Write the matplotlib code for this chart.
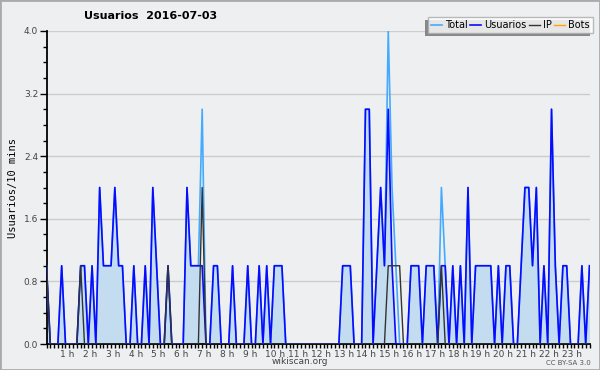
import matplotlib.pyplot as plt
import matplotlib.transforms as mtransforms
from matplotlib.patches import Rectangle
from matplotlib.ticker import MultipleLocator

# -----------------------------
# Données (une valeur toutes les 10 minutes, 144 points)
# -----------------------------
usuarios = [
    1, 0, 0, 0, 1, 0, 0, 0, 0, 1, 1, 0,
    1, 0, 2, 1, 1, 1, 2, 1, 1, 0, 0, 1,
    0, 0, 1, 0, 2, 1, 0, 0, 1, 0, 0, 0,
    0, 2, 1, 1, 1, 1, 0, 0, 1, 1, 0, 0,
    0, 1, 0, 0, 0, 1, 0, 0, 1, 0, 1, 0,
    1, 1, 1, 0, 0, 0, 0, 0, 0, 0, 0, 0,
    0, 0, 0, 0, 0, 0, 1, 1, 1, 0, 0, 0,
    3, 3, 0, 1, 2, 1, 3, 1, 0, 0, 0, 0,
    1, 1, 1, 0, 1, 1, 1, 0, 1, 1, 0, 1,
    0, 1, 0, 2, 0, 1, 1, 1, 1, 1, 0, 1,
    0, 1, 1, 0, 0, 1, 2, 2, 1, 2, 0, 1,
    0, 3, 1, 0, 1, 1, 0, 0, 0, 1, 0, 1,
]
total = [
    1, 0, 0, 0, 1, 0, 0, 0, 0, 1, 1, 0,
    1, 0, 2, 1, 1, 1, 2, 1, 1, 0, 0, 1,
    0, 0, 1, 0, 2, 1, 0, 0, 1, 0, 0, 0,
    0, 2, 1, 1, 1, 3, 0, 0, 1, 1, 0, 0,
    0, 1, 0, 0, 0, 1, 0, 0, 1, 0, 1, 0,
    1, 1, 1, 0, 0, 0, 0, 0, 0, 0, 0, 0,
    0, 0, 0, 0, 0, 0, 1, 1, 1, 0, 0, 0,
    3, 3, 0, 1, 2, 1, 4, 2, 1, 0, 0, 0,
    1, 1, 1, 0, 1, 1, 1, 0, 2, 1, 0, 1,
    0, 1, 0, 2, 0, 1, 1, 1, 1, 1, 0, 1,
    0, 1, 1, 0, 0, 1, 2, 2, 1, 2, 0, 1,
    0, 3, 1, 0, 1, 1, 0, 0, 0, 1, 0, 1,
]
ip = [
    1, 0, 0, 0, 0, 0, 0, 0, 0, 1, 0, 0,
    0, 0, 0, 0, 0, 0, 0, 0, 0, 0, 0, 0,
    0, 0, 0, 0, 0, 0, 0, 0, 1, 0, 0, 0,
    0, 0, 0, 0, 0, 2, 0, 0, 0, 0, 0, 0,
    0, 0, 0, 0, 0, 0, 0, 0, 0, 0, 0, 0,
    0, 0, 0, 0, 0, 0, 0, 0, 0, 0, 0, 0,
    0, 0, 0, 0, 0, 0, 0, 0, 0, 0, 0, 0,
    0, 0, 0, 0, 0, 0, 1, 1, 1, 1, 0, 0,
    0, 0, 0, 0, 0, 0, 0, 0, 1, 0, 0, 0,
    0, 0, 0, 0, 0, 0, 0, 0, 0, 0, 0, 0,
    0, 0, 0, 0, 0, 0, 0, 0, 0, 0, 0, 0,
    0, 0, 0, 0, 0, 0, 0, 0, 0, 0, 0, 0,
]
bots = [0] * 144

heures = [f"{h} h" for h in range(1, 24)]
pos_heures = [6 * h for h in range(1, 24)]

fond = "#eeeff0"

# -----------------------------
# Figure
# -----------------------------
fig = plt.figure(figsize=(6, 3.7), dpi=100, facecolor=fond)
ax = fig.add_axes([46.5 / 600, 1 - 344 / 370, (589.5 - 46.5) / 600, (344 - 31) / 370])
ax.set_facecolor(fond)

x = list(range(len(usuarios)))
ax.fill_between(x, usuarios, 0, color="#c4dcf0", linewidth=0, zorder=1)
ax.plot(x, total, color="#44aaff", lw=1.2, label="Total", zorder=3)
ax.plot(x, usuarios, color="#0a0aff", lw=1.2, label="Usuarios", zorder=4)
ax.plot(x, ip, color="#333333", lw=1.0, label="IP", zorder=5)
ax.plot(x, bots, color="#ffa500", lw=1.0, label="Bots", zorder=2, alpha=0)

ax.set_xlim(0, 143)
ax.set_ylim(0, 4.0)

# axe y
ax.set_yticks([0.0, 0.8, 1.6, 2.4, 3.2, 4.0])
ax.set_yticklabels(["0.0", "0.8", "1.6", "2.4", "3.2", "4.0"])
ax.yaxis.set_minor_locator(MultipleLocator(0.2))
ax.tick_params(axis="y", which="major", length=5, width=1, labelsize=6.5,
               labelcolor="#444444", pad=1)
ax.tick_params(axis="y", which="minor", length=3, width=1)
ax.grid(axis="y", color="#cccccc", lw=1)
ax.set_axisbelow(True)

# axe x : un petit trait tous les 10 min, étiquette à chaque heure
ax.set_xticks(x, minor=True)
ax.set_xticks(pos_heures)
ax.set_xticklabels(heures)
ax.tick_params(axis="x", which="both", length=3, width=1, labelsize=6.5,
               labelcolor="#444444", pad=1)
decal = mtransforms.ScaledTranslation(-9 / 100, 0, fig.dpi_scale_trans)
for lab in ax.get_xticklabels():
    lab.set_horizontalalignment("left")
    lab.set_transform(lab.get_transform() + decal)

for cote in ["top", "right"]:
    ax.spines[cote].set_visible(False)
ax.spines["left"].set_linewidth(1.3)
ax.spines["bottom"].set_linewidth(1.3)

ax.set_ylabel("Usuarios/10 mins", fontsize=7.5, family="DejaVu Sans Mono", labelpad=4)

# -----------------------------
# Textes
# -----------------------------
fig.text(151 / 600, 1 - 16 / 370, "Usuarios  2016-07-03", ha="center", va="center",
         fontsize=8, fontweight="bold")
fig.text(0.5, 0.022, "wikiscan.org", ha="center", va="center", fontsize=6.5, color="#444444")
fig.text(0.985, 0.02, "CC BY-SA 3.0", ha="right", va="center", fontsize=5, color="#555555")

# légende avec ombre décalée vers la gauche
leg = fig.legend(loc="upper right", bbox_to_anchor=(593 / 600, 1 - 17 / 370), ncol=4,
                 fontsize=7, frameon=True, fancybox=False, handlelength=1.1,
                 handletextpad=0.35, columnspacing=0.25, borderpad=0.3,
                 borderaxespad=0, edgecolor="#aaaaaa")
leg.get_frame().set_linewidth(1)
leg.set_zorder(10)
for ligne in leg.get_lines():
    ligne.set_alpha(1)
fig.canvas.draw()
bb = leg.get_window_extent()
fig.patches.append(Rectangle((bb.x0 - 3, bb.y0 - 3), bb.width, bb.height,
                             transform=None, facecolor="#888888", edgecolor="none",
                             zorder=9))

# cadre de l'image
fig.patches.append(Rectangle((0, 0), 1, 1, transform=fig.transFigure, fill=False,
                             edgecolor="#aaaaaa", lw=2, zorder=20))

fig.savefig("out.png", dpi=100, facecolor=fond)
